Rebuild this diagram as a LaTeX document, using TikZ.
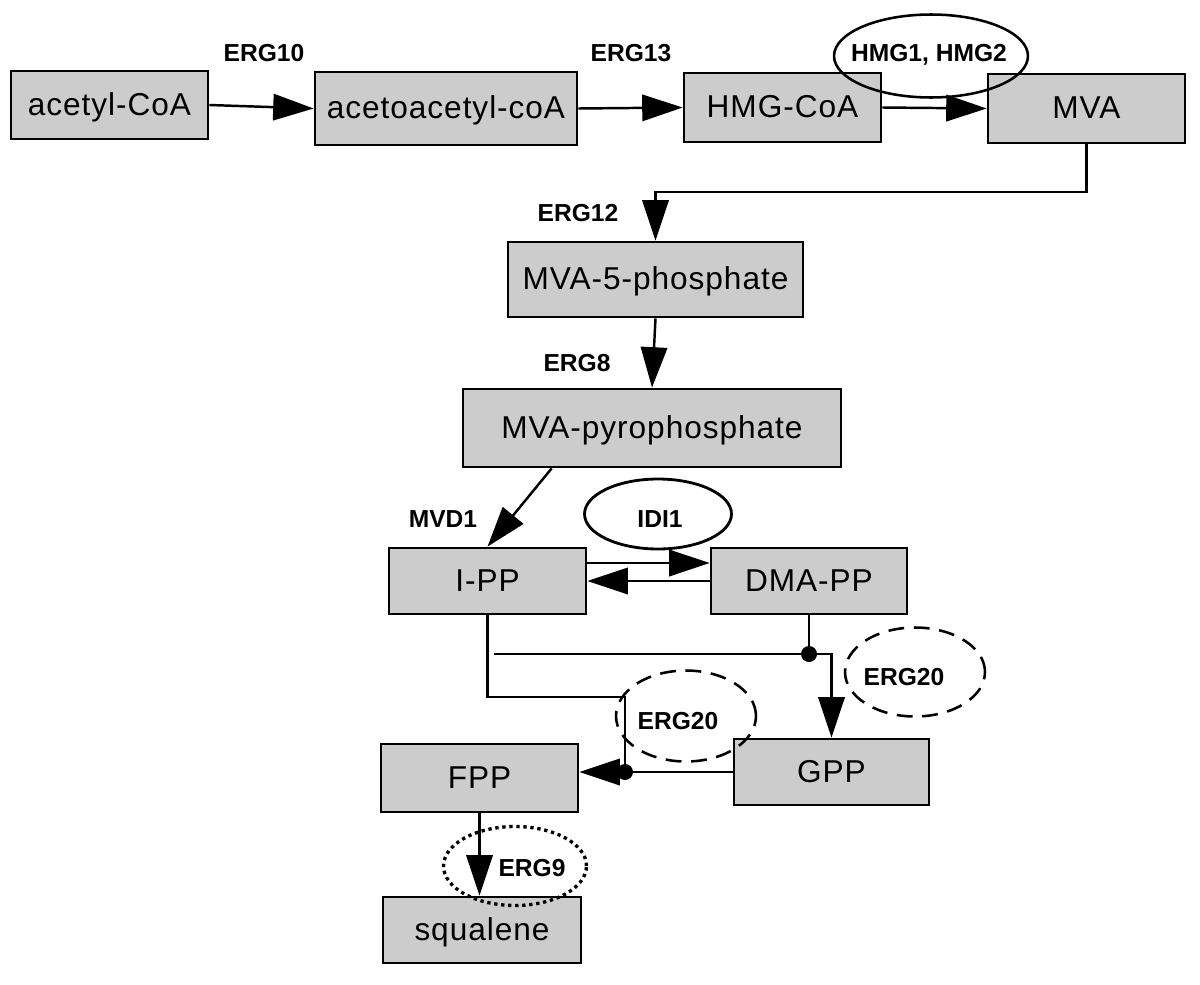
\documentclass[tikz,border=0pt]{standalone}
\usepackage{fontspec}
\setmainfont{Liberation Sans}
\newfontfamily\boxfont[LetterSpace=3]{Liberation Sans}
\usetikzlibrary{arrows.meta,shapes.geometric,calc}
\definecolor{boxgray}{RGB}{204,204,204}
\begin{document}
\begin{tikzpicture}[x=0.02cm,y=-0.02cm,
  box/.style={draw, line width=1.6pt, fill=boxgray, inner sep=0pt, text height=11.6pt, text depth=0pt, font=\boxfont\fontsize{18}{20}\selectfont},
  lbl/.style={font=\bfseries\fontsize{14}{16}\selectfont, inner sep=0pt},
  enz/.style={ellipse, draw, line width=1.45pt, inner sep=0pt},
  dashenz/.style={enz, dash pattern=on 9pt off 5.5pt},
  dotenz/.style={enz, line width=1.9pt, dash pattern=on 1.9pt off 2.1pt},
  conn/.style={line width=1.4pt},
  arr/.style={conn, -{Triangle[length=23pt,width=15pt]}},
  jdot/.style={circle, fill=black, inner sep=0pt, minimum size=0.32cm},
]
\fill[white] (0,0) rectangle (1200,984);
\useasboundingbox (0,0) rectangle (1200,984);

% metabolite boxes
\node[box, minimum width=3.94cm, minimum height=1.36cm] (acoa) at (109.5,105) {acetyl-CoA};
\node[box, minimum width=5.24cm, minimum height=1.46cm] (aacoa) at (446,108.5) {acetoacetyl-coA};
\node[box, minimum width=3.94cm, minimum height=1.38cm] (hmgcoa) at (782.5,107.5) {HMG-CoA};
\node[box, minimum width=3.94cm, minimum height=1.38cm] (mva) at (1086.5,108.5) {MVA};
\node[box, minimum width=5.9cm, minimum height=1.5cm] (m5p) at (655.5,279.5) {MVA-5-phosphate};
\node[box, minimum width=7.56cm, minimum height=1.56cm] (mpp) at (652,428) {MVA-pyrophosphate};
\node[box, minimum width=3.94cm, minimum height=1.32cm] (ipp) at (487.5,581) {I-PP};
\node[box, minimum width=3.92cm, minimum height=1.32cm] (dma) at (809,581) {DMA-PP};
\node[box, minimum width=3.9cm, minimum height=1.32cm] (gpp) at (831.5,772) {GPP};
\node[box, minimum width=3.94cm, minimum height=1.36cm] (fpp) at (479.5,778) {FPP};
\node[box, minimum width=3.96cm, minimum height=1.32cm] (sq) at (482,930) {squalene};

% enzyme labels
\node[lbl] (l10) at (264,53) {ERG10};
\node[lbl] (l13) at (631,53) {ERG13};
\node[lbl] (l12) at (578,213) {ERG12};
\node[lbl] (l8) at (577,363) {ERG8};
\node[lbl] (lmvd) at (443,519) {MVD1};

% connectors
\draw[arr] (acoa.east) -- (aacoa.west);
\draw[arr] (aacoa.east) -- (hmgcoa.west);
\draw[arr] (hmgcoa.east) -- (mva.west);
\coordinate (k1) at (655.5,192);
\draw[arr] (mva.south) |- (k1) -- (m5p.north);
\draw[arr] (m5p.south) -- (mpp.north);
\draw[arr] ($(mpp.south west)+(90,0)$) -- (ipp.north);
\draw[arr] ($(ipp.east)+(0,-18)$) -- ($(dma.west)+(0,-18)$);
\draw[arr] (dma.west) -- (ipp.east);
\node[jdot] (d1) at (809,654) {};
\coordinate (h0) at (494,654);
\draw[conn] (dma.south) -- (d1.center);
\draw[conn] (h0) -- (d1.center);
\draw[arr] (d1.center) -| (gpp.north);
\coordinate (k2) at (625,697);
\node[jdot] (d2) at (625,772) {};
\draw[conn] (ipp.south) |- (k2) -- (d2.center);
\draw[arr] (gpp.west) -- (fpp.east |- gpp.west);
\draw[arr] (fpp.south) -- (fpp.south |- sq.north);

% enzyme ellipses
\node[enz, minimum width=3.88cm, minimum height=1.66cm] (e1) at (931,56) {};
\node[lbl] (t1) at (929,55) {HMG1, HMG2};
\node[enz, line width=1.6pt, minimum width=2.94cm, minimum height=1.4cm] (e2) at (658,514) {};
\node[lbl] (t2) at (660,519) {IDI1};
\node[dashenz, minimum width=2.8cm, minimum height=1.78cm] (e3) at (915,672) {};
\node[lbl] (t3) at (904,677) {ERG20};
\node[dashenz, minimum width=2.8cm, minimum height=1.82cm] (e4) at (686,716) {};
\node[lbl] (t4) at (678,721) {ERG20};
\node[dotenz, minimum width=2.86cm, minimum height=1.58cm] (e5) at (515,866) {};
\node[lbl] (t5) at (532,868) {ERG9};
\end{tikzpicture}
\end{document}
